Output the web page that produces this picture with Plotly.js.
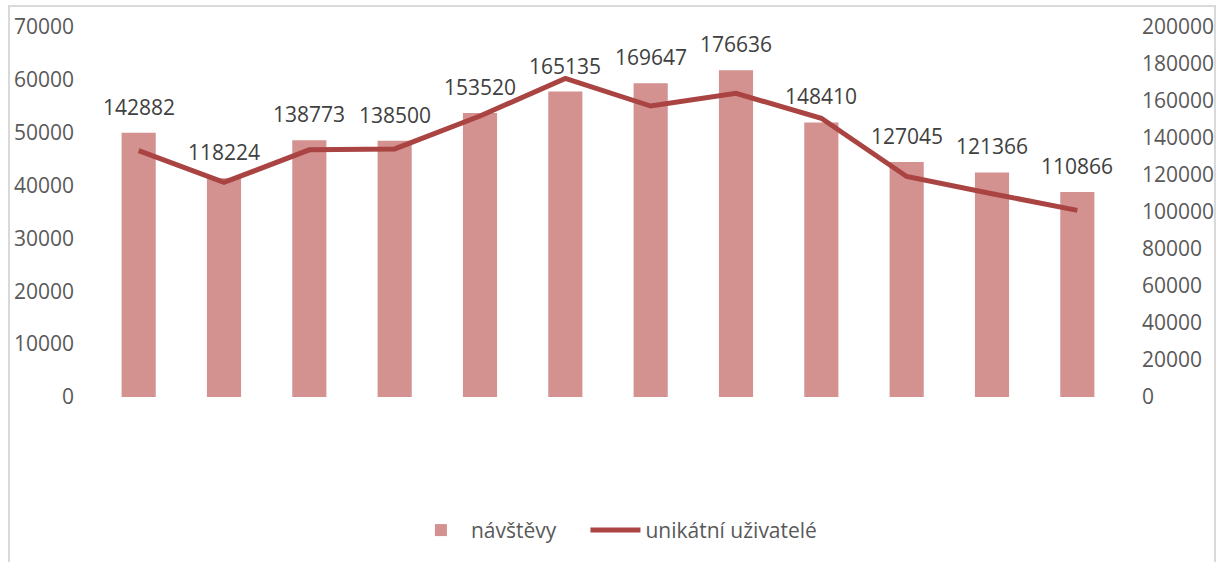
<!DOCTYPE html>
<html>
<head>
<meta charset="utf-8">
<script src="https://cdn.plot.ly/plotly-3.0.1.min.js"></script>
<style>
  html, body { margin: 0; padding: 0; background: #ffffff; }
  #wrap { position: relative; width: 1219px; height: 562px; overflow: hidden; }
  #chart { position: absolute; left: 0; top: 0; width: 1219px; height: 562px; }
  #frame { position: absolute; left: 8px; top: 5px; width: 1208px; height: 600px;
           border: 2px solid #d9d9d9; pointer-events: none; box-sizing: border-box; }
</style>
</head>
<body>
<div id="wrap">
  <div id="chart"></div>
  <div id="frame"></div>
</div>
<script>
// Data
const categories = ['1', '2', '3', '4', '5', '6', '7', '8', '9', '10', '11', '12'];
const visits = [142882, 118224, 138773, 138500, 153520, 165135, 169647, 176636, 148410, 127045, 121366, 110866];
const uniqueUsers = [46620, 40590, 46760, 46940, 53170, 60270, 55050, 57440, 52730, 41720, 38460, 35310];
const visitsName = 'návštěvy';
const usersName = 'unikátní uživatelé';

const fontFamily = '"Open Sans", "Noto Sans", sans-serif';

const traces = [
  {
    type: 'bar',
    name: visitsName,
    x: categories,
    y: visits,
    yaxis: 'y',
    legend: 'legend',
    marker: { color: '#d39190' },
    hoverinfo: 'x+y'
  },
  {
    type: 'scatter',
    mode: 'lines',
    name: usersName,
    x: categories,
    y: uniqueUsers,
    yaxis: 'y2',
    legend: 'legend2',
    line: { color: '#a94442', width: 5 },
    hoverinfo: 'x+y'
  }
];

// category index positions (annotations on category axes use the index)
const annotations = visits.map((v, i) => ({
  x: i,
  y: v,
  xref: 'x',
  yref: 'y',
  text: String(v),
  showarrow: false,
  yshift: 26,
  yanchor: 'middle',
  font: { family: fontFamily, size: 21, color: '#404040' }
}));

const legendFont = { family: fontFamily, size: 21, color: '#595959' };

const layout = {
  width: 1219,
  height: 562,
  margin: { l: 96, r: 99, t: 27, b: 164, pad: 0 },
  paper_bgcolor: 'rgba(0,0,0,0)',
  plot_bgcolor: 'rgba(0,0,0,0)',
  font: { family: fontFamily, size: 21, color: '#595959' },
  bargap: 0.6,
  showlegend: true,
  legend: {
    orientation: 'h',
    x: 0.455,
    xanchor: 'right',
    y: -0.357,
    yanchor: 'middle',
    font: legendFont,
    itemwidth: 50,
    bgcolor: 'rgba(0,0,0,0)'
  },
  legend2: {
    orientation: 'h',
    x: 0.478,
    xanchor: 'left',
    y: -0.357,
    yanchor: 'middle',
    font: legendFont,
    itemwidth: 50,
    bgcolor: 'rgba(0,0,0,0)'
  },
  xaxis: {
    type: 'category',
    showticklabels: false,
    showgrid: false,
    zeroline: false,
    showline: false,
    ticks: ''
  },
  yaxis: {
    side: 'right',
    range: [0, 200000],
    dtick: 20000,
    tick0: 0,
    showgrid: false,
    zeroline: false,
    showline: false,
    ticks: '',
    ticklabelstandoff: 21,
    tickformat: 'd',
    tickfont: { family: fontFamily, size: 21, color: '#595959' }
  },
  yaxis2: {
    side: 'left',
    overlaying: 'y',
    range: [0, 70000],
    dtick: 10000,
    tick0: 0,
    showgrid: false,
    zeroline: false,
    showline: false,
    ticks: '',
    ticklabelstandoff: 21,
    tickformat: 'd',
    tickfont: { family: fontFamily, size: 21, color: '#595959' }
  },
  annotations: annotations
};

Plotly.newPlot('chart', traces, layout, { displayModeBar: false, staticPlot: true });
</script>
</body>
</html>
